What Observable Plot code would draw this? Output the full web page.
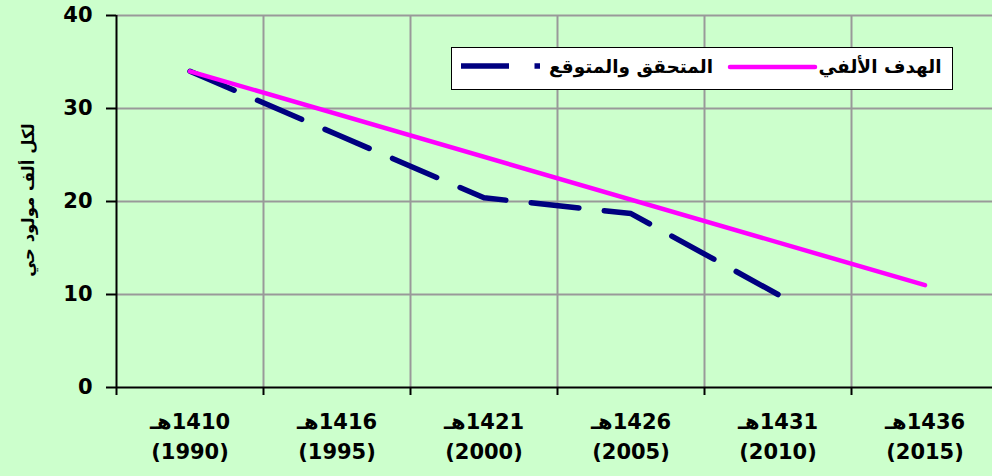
<!DOCTYPE html>
<html><head><meta charset="utf-8">
<script src="https://cdn.jsdelivr.net/npm/d3@7"></script>
<script src="https://cdn.jsdelivr.net/npm/@observablehq/plot@0.6"></script>
<style>
html,body{margin:0;padding:0;background:#ccffcc;}
#chart{position:relative;width:992px;height:476px;overflow:hidden;}
</style></head><body><div id="chart"></div>
<script>
const years = [1990, 1995, 2000, 2005, 2010, 2015];
const hijriYears = [1410, 1416, 1421, 1426, 1431, 1436];
const actualYears = [1990, 1995, 2000, 2005, 2010];
const actualValues = [34, 27.2, 20.4, 18.7, 10];
const targetYears = [1990, 2015];
const targetValues = [34, 11];
const yTicks = [0, 10, 20, 30, 40];
const seriesNames = ["الهدف الألفي", "المتحقق والمتوقع"];
const yTitle = "لكل ألف مولود حي";
const bandEdges = [1987.5, 1992.5, 1997.5, 2002.5, 2007.5, 2012.5, 2017.5];

const actual = actualYears.map((x, i) => ({x, y: actualValues[i]}));
const target = targetYears.map((x, i) => ({x, y: targetValues[i]}));

const NAVY = "#000080", PINK = "#ff00ff", GRID = "#999999";
const DASH = "48,25.5";

const chart = Plot.plot({
  width: 992, height: 476,
  marginLeft: 116, marginRight: 0, marginTop: 15, marginBottom: 89,
  style: {background: "#ccffcc", fontFamily: "DejaVu Sans", fontWeight: "bold", color: "black", overflow: "hidden"},
  x: {type: "linear", domain: [1987.5, 2017.5], range: [116, 998]},
  y: {domain: [0, 40], range: [387, 15]},
  marks: [
    Plot.ruleY(yTicks.filter(d => d > 0), {stroke: GRID, strokeWidth: 2}),
    Plot.ruleX(bandEdges.slice(1), {stroke: GRID, strokeWidth: 2}),
    Plot.axisY({ticks: yTicks, tickSize: 10, tickPadding: 14, fontSize: 21, fontWeight: "bold", stroke: "black", strokeWidth: 2, label: null}),
    Plot.axisX({ticks: bandEdges, tickSize: 8, tickFormat: () => "", stroke: "black", strokeWidth: 2, label: null}),
    Plot.axisX({ticks: years, tickSize: 0, tickPadding: 20, fontSize: 21, fontWeight: "bold", lineHeight: 1.43, label: null,
      tickFormat: d => "\u202B" + hijriYears[years.indexOf(d)] + "هـ\u202C\n(" + d + ")"}),
    Plot.ruleX([bandEdges[0]], {stroke: "black", strokeWidth: 2}),
    Plot.ruleY([0], {stroke: "black", strokeWidth: 2}),
    Plot.line(actual, {x: "x", y: "y", stroke: NAVY, strokeWidth: 5.5, strokeDasharray: DASH, strokeLinejoin: "round"}),
    Plot.line(target, {x: "x", y: "y", stroke: PINK, strokeWidth: 4.5, strokeLinecap: "round", strokeLinejoin: "round"})
  ]
});

document.getElementById("chart").appendChild(chart);

const svg = d3.select(chart);
// Y axis title
svg.append("text")
  .attr("transform", "translate(28,200) rotate(-90)")
  .attr("text-anchor", "middle")
  .attr("dominant-baseline", "central")
  .attr("font-size", 16.5).attr("font-weight", "bold").attr("font-family", "DejaVu Sans")
  .attr("fill", "black")
  .text(yTitle);

// Legend
const lg = svg.append("g");
lg.append("rect").attr("x", 451.5).attr("y", 47.5).attr("width", 501).attr("height", 42)
  .attr("fill", "white").attr("stroke", "black").attr("stroke-width", 1);
lg.append("line").attr("x1", 461).attr("x2", 540).attr("y1", 66).attr("y2", 66)
  .attr("stroke", NAVY).attr("stroke-width", 5.5).attr("stroke-dasharray", DASH);
lg.append("text").attr("x", 631).attr("y", 66).attr("text-anchor", "middle").attr("dominant-baseline", "central")
  .attr("font-size", 18.5).attr("font-weight", "bold").attr("font-family", "DejaVu Sans").attr("fill", "black")
  .text(seriesNames[1]);
lg.append("line").attr("x1", 730).attr("x2", 815).attr("y1", 67).attr("y2", 67)
  .attr("stroke", PINK).attr("stroke-width", 4.5).attr("stroke-linecap", "round");
lg.append("text").attr("x", 880).attr("y", 66).attr("text-anchor", "middle").attr("dominant-baseline", "central")
  .attr("font-size", 18.5).attr("font-weight", "bold").attr("font-family", "DejaVu Sans").attr("fill", "black")
  .text(seriesNames[0]);
</script></body></html>
